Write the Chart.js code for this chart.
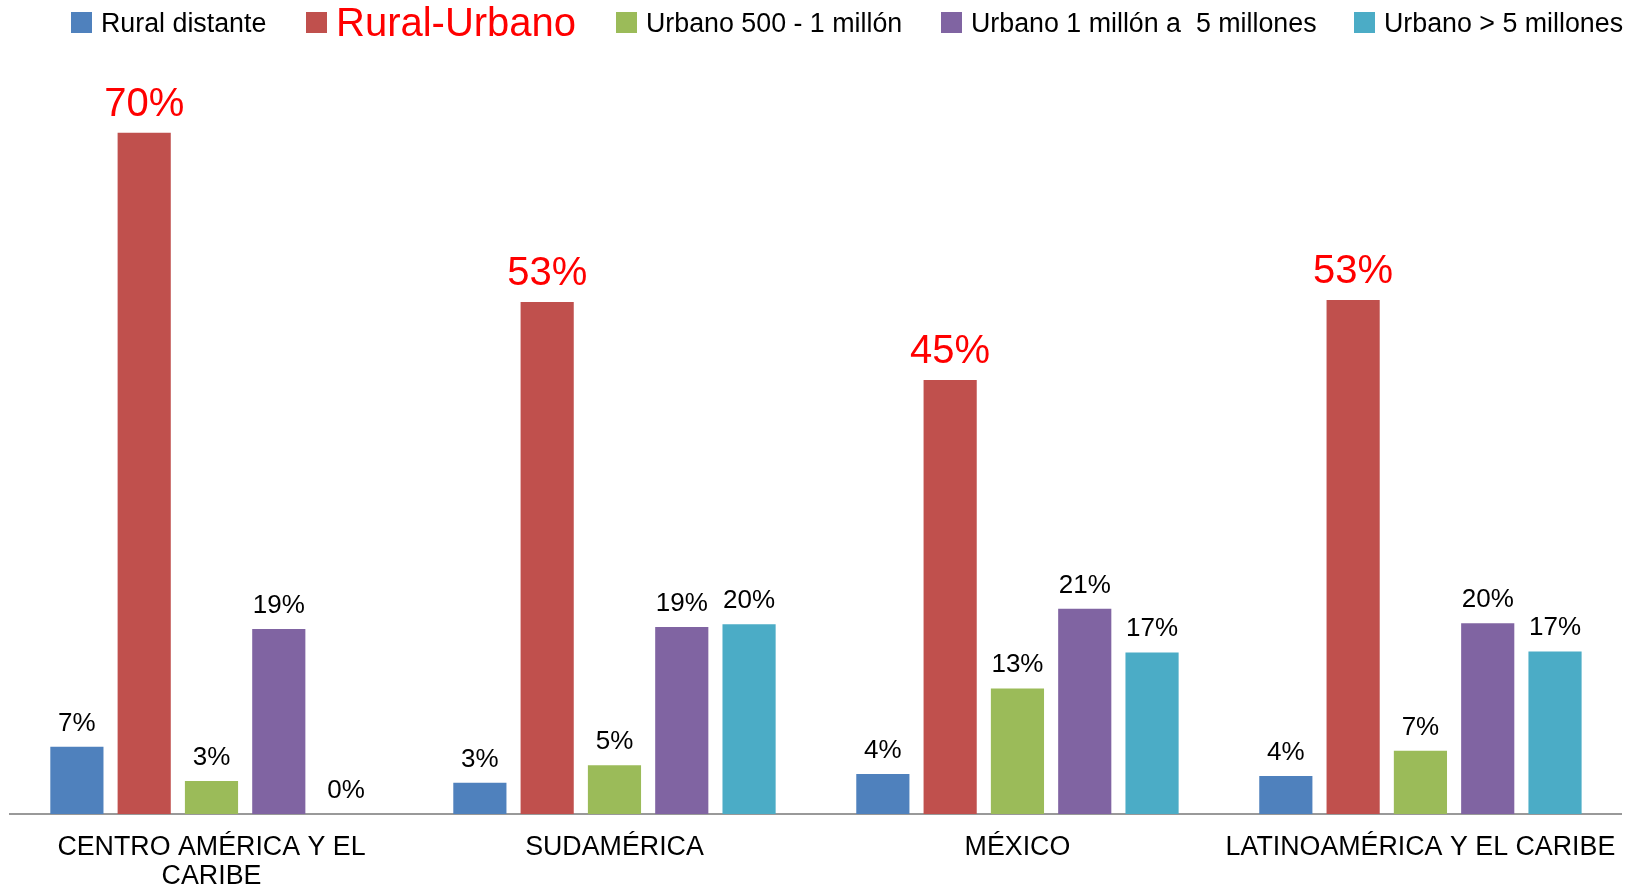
<!DOCTYPE html>
<html>
<head>
<meta charset="utf-8">
<script src="https://cdn.jsdelivr.net/npm/chart.js@4"></script>
<style>
  body { margin: 0; background: #fff; }
</style>
</head>
<body>
<canvas id="myChart" width="1636" height="887"></canvas>
<script>
let categories = [["CENTRO AMÉRICA Y EL", "CARIBE"], "SUDAMÉRICA", "MÉXICO", "LATINOAMÉRICA Y EL CARIBE"];
let seriesNames = ["Rural distante", "Rural-Urbano", "Urbano 500 - 1 millón", "Urbano 1 millón a  5 millones", "Urbano > 5 millones"];
let ruralDistante = [6.9, 3.2, 4.1, 3.9];
let ruralUrbano = [70, 52.6, 44.6, 52.8];
let urbano500 = [3.4, 5.0, 12.9, 6.5];
let urbano1a5 = [19.0, 19.2, 21.1, 19.6];
let urbanoMas5 = [0, 19.5, 16.6, 16.7];
let colorHex = ['#4F81BD', '#C0504D', '#9BBB59', '#8064A2', '#4BACC6'];

const fontFamily = "Arial, 'Liberation Sans', sans-serif";
let seriesData = [ruralDistante, ruralUrbano, urbano500, urbano1a5, urbanoMas5];

// labels above the bars, the red series bigger and red
const barLabels = {
  id: 'barLabels',
  afterDatasetsDraw(chart) {
    const ctx = chart.ctx;
    ctx.save();
    ctx.textAlign = 'center';
    ctx.textBaseline = 'alphabetic';
    chart.data.datasets.forEach((ds, i) => {
      const meta = chart.getDatasetMeta(i);
      const big = i === 1;
      ctx.font = (big ? 40 : 26) + 'px ' + fontFamily;
      ctx.fillStyle = big ? '#FF0000' : '#000';
      meta.data.forEach((bar, j) => {
        ctx.fillText(Math.round(ds.data[j]) + '%', bar.x, bar.y - (big ? 17 : 16));
      });
    });
    ctx.restore();
  }
};

// legend drawn by hand so one entry can have its own size and colour
const topLegend = {
  id: 'topLegend',
  afterDraw(chart) {
    const ctx = chart.ctx;
    const starts = [71, 306, 616, 941, 1354];
    ctx.save();
    ctx.textBaseline = 'middle';
    ctx.textAlign = 'left';
    seriesNames.forEach((name, i) => {
      ctx.fillStyle = colorHex[i];
      ctx.fillRect(starts[i], 12, 21, 21);
      const big = i === 1;
      ctx.font = (big ? 40 : 26.8) + 'px ' + fontFamily;
      ctx.fillStyle = big ? '#FF0000' : '#000';
      ctx.fillText(name, starts[i] + 30, 25);
    });
    ctx.restore();
  }
};

let ctx = document.getElementById('myChart').getContext('2d');
let myChart = new Chart(ctx, {
  type: 'bar',
  data: {
    labels: categories,
    datasets: seriesData.map((d, i) => ({
      label: seriesNames[i],
      data: d,
      backgroundColor: colorHex[i],
      categoryPercentage: 0.835,
      barPercentage: 0.79
    }))
  },
  options: {
    responsive: false,
    animation: false,
    layout: { padding: { top: 84, left: 10, right: 14, bottom: 0 } },
    plugins: {
      legend: { display: false },
      tooltip: { enabled: false }
    },
    scales: {
      x: {
        grid: { display: false, drawTicks: false },
        border: { display: true, color: '#999999', width: 2 },
        ticks: {
          color: '#000',
          padding: 19,
          maxRotation: 0,
          font: { family: fontFamily, size: 26.8, lineHeight: 1.08 }
        },
        afterFit: (axis) => { axis.height = 73; }
      },
      y: {
        display: false,
        min: 0,
        max: 75
      }
    }
  },
  plugins: [barLabels, topLegend]
});
</script>
</body>
</html>
